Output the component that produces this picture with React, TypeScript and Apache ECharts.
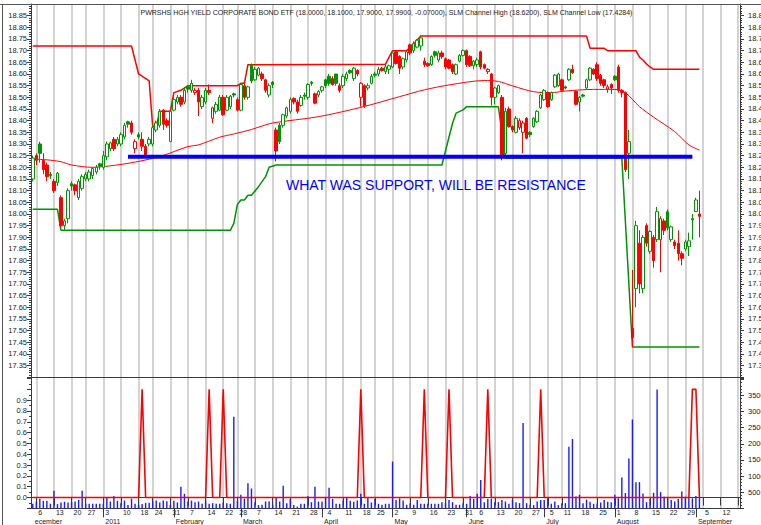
import React, { useEffect, useRef } from "react";
import * as echarts from "echarts";

// ---------- calendar ----------
const FIRST_DAY = "2010-12-03";
const LAST_DAY = "2011-09-19";
const HOLIDAYS = ["2010-12-24", "2011-01-17", "2011-02-21", "2011-04-22", "2011-05-30", "2011-07-04"];
const MONTH_NAMES = ["January", "February", "March", "April", "May", "June", "July", "August", "September", "October", "November", "December"];

// ---------- texts ----------
const TITLE =
  "PWRSHS HGH YIELD CORPORATE BOND ETF (18.0000, 18.1000, 17.9000, 17.9900, -0.07000), SLM Channel High (18.6200), SLM Channel Low (17.4284)";
const NOTE = "WHAT WAS SUPPORT, WILL BE RESISTANCE";

// ---------- daily prices (trading days from 2010-12-03) ----------
const OPEN = [
  18.15, 18.25, 18.30, 18.23, 18.21, 18.17, 18.14, 18.135, 18.07, 17.95,
  17.98, 18.13, 18.125, 18.07, 18.11, 18.15, 18.15, 18.165, 18.18, 18.215,
  18.20, 18.245, 18.28, 18.32, 18.30, 18.30, 18.33, 18.395, 18.39, 18.28,
  18.34, 18.32, 18.29, 18.30, 18.30, 18.36, 18.38, 18.445, 18.40, 18.31,
  18.445, 18.48, 18.50, 18.48, 18.545, 18.53, 18.52, 18.53, 18.46, 18.48,
  18.53, 18.41, 18.44, 18.445, 18.50, 18.445, 18.46, 18.515, 18.49, 18.445,
  18.55, 18.50, 18.64, 18.575, 18.595, 18.60, 18.575, 18.51, 18.565, 18.36,
  18.38, 18.38, 18.42, 18.44, 18.495, 18.48, 18.465, 18.51, 18.50, 18.565,
  18.515, 18.51, 18.53, 18.575, 18.59, 18.58, 18.60, 18.55, 18.55, 18.58,
  18.615, 18.58, 18.615, 18.50, 18.55, 18.54, 18.56, 18.60, 18.60, 18.625,
  18.61, 18.62, 18.63, 18.695, 18.675, 18.63, 18.66, 18.725, 18.70, 18.715,
  18.72, 18.655, 18.645, 18.64, 18.695, 18.66, 18.69, 18.665, 18.66, 18.64,
  18.60, 18.655, 18.68, 18.70, 18.675, 18.635, 18.64, 18.695, 18.64, 18.61,
  18.60, 18.50, 18.52, 18.50, 18.26, 18.45, 18.375, 18.35, 18.37, 18.35,
  18.41, 18.35, 18.375, 18.395, 18.455, 18.49, 18.52, 18.49, 18.545, 18.55,
  18.575, 18.545, 18.575, 18.62, 18.525, 18.48, 18.51, 18.54, 18.575, 18.62,
  18.64, 18.595, 18.575, 18.535, 18.555, 18.59, 18.63, 18.53, 18.52, 18.26,
  17.51, 17.68, 17.875, 17.68, 17.95, 17.84, 17.90, 17.89, 17.89, 17.97,
  18.01, 17.89, 17.88, 17.875, 17.83, 17.85, 17.86, 17.98, 18.01, 18.00,
];
const CLOSE = [
  18.24, 18.23, 18.26, 18.19, 18.16, 18.165, 18.10, 18.175, 17.95, 17.97,
  18.10, 18.12, 18.10, 18.14, 18.16, 18.17, 18.18, 18.195, 18.20, 18.205,
  18.25, 18.30, 18.305, 18.28, 18.32, 18.34, 18.38, 18.385, 18.35, 18.31,
  18.33, 18.29, 18.25, 18.32, 18.37, 18.39, 18.44, 18.385, 18.38, 18.44,
  18.49, 18.50, 18.47, 18.53, 18.535, 18.56, 18.53, 18.48, 18.50, 18.53,
  18.52, 18.455, 18.47, 18.50, 18.425, 18.50, 18.505, 18.51, 18.445, 18.555,
  18.50, 18.545, 18.57, 18.62, 18.625, 18.58, 18.53, 18.55, 18.555, 18.27,
  18.31, 18.425, 18.455, 18.49, 18.48, 18.44, 18.50, 18.505, 18.555, 18.56,
  18.475, 18.525, 18.545, 18.55, 18.56, 18.555, 18.56, 18.53, 18.59, 18.60,
  18.605, 18.625, 18.60, 18.56, 18.465, 18.55, 18.59, 18.595, 18.62, 18.615,
  18.63, 18.635, 18.69, 18.645, 18.625, 18.665, 18.695, 18.69, 18.73, 18.745,
  18.755, 18.64, 18.635, 18.675, 18.68, 18.69, 18.675, 18.63, 18.625, 18.61,
  18.64, 18.68, 18.70, 18.64, 18.635, 18.655, 18.66, 18.63, 18.625, 18.62,
  18.50, 18.54, 18.55, 18.25, 18.44, 18.375, 18.36, 18.41, 18.40, 18.39,
  18.325, 18.34, 18.41, 18.44, 18.51, 18.53, 18.46, 18.52, 18.595, 18.60,
  18.53, 18.54, 18.62, 18.605, 18.47, 18.50, 18.505, 18.575, 18.625, 18.60,
  18.58, 18.56, 18.55, 18.545, 18.54, 18.575, 18.53, 18.52, 18.19, 18.31,
  17.47, 17.95, 17.70, 17.90, 17.875, 17.925, 17.80, 18.01, 17.98, 17.93,
  17.94, 17.945, 17.865, 17.83, 17.81, 17.88, 17.885, 17.975, 18.06, 17.99,
];
const LOW = [
  18.14, 18.21, 18.22, 18.17, 18.14, 18.15, 18.09, 18.12, 17.94, 17.93,
  17.96, 18.10, 18.08, 18.06, 18.10, 18.14, 18.14, 18.15, 18.17, 18.19,
  18.19, 18.23, 18.27, 18.27, 18.29, 18.29, 18.32, 18.37, 18.34, 18.26,
  18.32, 18.27, 18.24, 18.29, 18.29, 18.35, 18.37, 18.36, 18.37, 18.31,
  18.44, 18.47, 18.46, 18.47, 18.52, 18.52, 18.51, 18.42, 18.45, 18.47,
  18.51, 18.39, 18.43, 18.44, 18.42, 18.44, 18.45, 18.50, 18.44, 18.44,
  18.49, 18.49, 18.56, 18.57, 18.59, 18.57, 18.52, 18.50, 18.54, 18.225,
  18.30, 18.37, 18.41, 18.43, 18.47, 18.43, 18.46, 18.49, 18.49, 18.55,
  18.47, 18.50, 18.52, 18.54, 18.55, 18.55, 18.55, 18.52, 18.54, 18.57,
  18.60, 18.57, 18.59, 18.46, 18.455, 18.53, 18.555, 18.585, 18.59, 18.61,
  18.60, 18.60, 18.625, 18.64, 18.60, 18.62, 18.65, 18.68, 18.69, 18.71,
  18.70, 18.63, 18.63, 18.635, 18.67, 18.65, 18.665, 18.62, 18.62, 18.60,
  18.595, 18.65, 18.675, 18.63, 18.63, 18.62, 18.63, 18.62, 18.62, 18.60,
  18.465, 18.47, 18.515, 18.23, 18.245, 18.37, 18.35, 18.345, 18.36, 18.26,
  18.32, 18.33, 18.37, 18.39, 18.45, 18.485, 18.455, 18.485, 18.54, 18.545,
  18.525, 18.535, 18.57, 18.60, 18.465, 18.44, 18.50, 18.535, 18.57, 18.595,
  18.57, 18.55, 18.54, 18.52, 18.515, 18.57, 18.52, 18.50, 18.18, 18.15,
  17.43, 17.60, 17.66, 17.66, 17.86, 17.83, 17.77, 17.88, 17.75, 17.91,
  17.93, 17.88, 17.85, 17.80, 17.78, 17.84, 17.82, 17.89, 18.01, 17.90,
];
const HIGH = [
  18.25, 18.26, 18.31, 18.26, 18.22, 18.18, 18.15, 18.18, 18.08, 17.98,
  18.11, 18.14, 18.13, 18.15, 18.17, 18.18, 18.19, 18.20, 18.21, 18.22,
  18.27, 18.31, 18.31, 18.33, 18.33, 18.35, 18.39, 18.40, 18.40, 18.32,
  18.35, 18.35, 18.30, 18.33, 18.38, 18.40, 18.45, 18.45, 18.41, 18.44,
  18.50, 18.51, 18.51, 18.54, 18.55, 18.575, 18.54, 18.54, 18.51, 18.54,
  18.555, 18.46, 18.48, 18.51, 18.51, 18.51, 18.51, 18.52, 18.50, 18.56,
  18.56, 18.55, 18.645, 18.63, 18.63, 18.61, 18.58, 18.56, 18.57, 18.37,
  18.39, 18.43, 18.46, 18.50, 18.50, 18.49, 18.51, 18.52, 18.56, 18.57,
  18.52, 18.53, 18.55, 18.58, 18.60, 18.59, 18.60, 18.56, 18.60, 18.61,
  18.62, 18.63, 18.62, 18.565, 18.555, 18.56, 18.60, 18.61, 18.63, 18.63,
  18.64, 18.64, 18.70, 18.70, 18.68, 18.67, 18.70, 18.73, 18.74, 18.75,
  18.765, 18.67, 18.65, 18.68, 18.70, 18.70, 18.70, 18.67, 18.665, 18.645,
  18.645, 18.685, 18.705, 18.705, 18.68, 18.66, 18.67, 18.70, 18.645, 18.625,
  18.605, 18.545, 18.555, 18.51, 18.455, 18.46, 18.38, 18.42, 18.41, 18.40,
  18.415, 18.355, 18.415, 18.445, 18.515, 18.535, 18.525, 18.525, 18.60, 18.605,
  18.58, 18.55, 18.625, 18.64, 18.53, 18.505, 18.515, 18.58, 18.63, 18.625,
  18.65, 18.60, 18.58, 18.555, 18.56, 18.595, 18.64, 18.535, 18.525, 18.36,
  17.76, 17.97, 17.93, 17.91, 17.96, 17.93, 17.91, 18.03, 17.99, 17.98,
  18.02, 17.95, 17.89, 17.93, 17.84, 17.89, 17.92, 18.00, 18.07, 18.10,
];
const VOLUME = [
  140, 210, 295, 233, 233, 140, 545, 130, 180, 200,
  180, 190, 210, 260, 545, 140, 140, 140, 140, 140,
  140, 330, 210, 380, 233, 160, 240, 100, 300, 140,
  110, 130, 170, 170, 240, 240, 180, 240, 220, 110,
  233, 180, 667, 450, 210, 240, 190, 210, 140, 240,
  140, 160, 140, 140, 180, 160, 140, 2840, 230, 420,
  300, 780, 615, 190, 100, 110, 210, 210, 110, 320,
  210, 700, 160, 290, 100, 50, 140, 140, 380, 190,
  670, 210, 210, 330, 640, 290, 140, 140, 240, 340,
  233, 200, 240, 450, 140, 320, 180, 290, 140, 110,
  140, 140, 1450, 260, 310, 240, 110, 160, 110, 260,
  140, 140, 140, 140, 140, 140, 190, 160, 260, 190,
  110, 110, 160, 140, 380, 290, 450, 880, 190, 300,
  300, 190, 190, 260, 210, 140, 260, 190, 160, 2650,
  160, 110, 100, 210, 260, 260, 310, 140, 210, 100,
  160, 160, 1910, 2150, 370, 420, 160, 270, 200, 140,
  140, 180, 260, 200, 190, 420, 310, 955, 470, 1545,
  2755, 810, 810, 460, 190, 290, 480, 3690, 500, 357,
  310, 260, 210, 290, 520, 357, 357, 310, 380, 357,
];
// trading-day indices where the lower-panel signal equals 1
const SIGNAL_DAYS = [31, 50, 54, 93, 111, 118, 129, 144, 187, 188];

// [trading-day index, value] vertices
const CHANNEL_HIGH = [
  [0, 18.72], [28, 18.72], [30, 18.6], [33, 18.57], [34, 18.375], [35, 18.375], [36, 18.44], [39, 18.44],
  [40, 18.52], [42, 18.53], [44, 18.55], [58, 18.55], [59, 18.56], [60, 18.56], [61, 18.64], [100, 18.642],
  [102, 18.7], [106, 18.7], [108, 18.729], [110, 18.763], [157, 18.763], [158, 18.71], [162, 18.71],
  [163, 18.7], [171, 18.7], [172, 18.672], [173, 18.66], [174, 18.643], [175, 18.63], [176, 18.62], [189, 18.62],
];
const CHANNEL_LOW = [
  [0, 18.02], [7, 18.02], [8, 17.93], [56, 17.93], [57, 17.96], [58, 18.04], [59, 18.06], [60, 18.06],
  [61, 18.08], [62, 18.08], [64, 18.117], [66, 18.16], [67, 18.2], [69, 18.21], [116, 18.21], [119, 18.389],
  [120, 18.432], [122, 18.446], [123, 18.46], [132, 18.46], [134, 18.24], [167, 18.24], [170, 17.43], [189, 17.43],
];
const MOVING_AVG = [
  [0, 18.235], [4, 18.232], [8, 18.224], [11, 18.21], [17, 18.2], [20, 18.203], [27, 18.217], [36, 18.246],
  [44, 18.289], [47, 18.296], [53, 18.329], [57, 18.343], [62, 18.362], [64, 18.372], [68, 18.39], [81, 18.417],
  [93, 18.457], [104, 18.503], [111, 18.532], [118, 18.553], [128, 18.572], [132, 18.568], [136, 18.549],
  [142, 18.524], [147, 18.52], [151, 18.527], [159, 18.534], [165, 18.534], [168, 18.52], [172, 18.46],
  [176, 18.415], [182, 18.353], [186, 18.296], [189, 18.274],
];
const SUPPORT_FROM = 27;
const SUPPORT_TO = 187;
const SUPPORT_LEVEL = 18.245;

const FONT = "Liberation Sans, Arial, sans-serif";
const GREEN = "#009400";
const RED = "#ff0000";
const BLUE = "#0000ff";
const AXIS = "#3a3a3a";
const GRIDLINE = "#c9c9c9";

function buildDates(): string[] {
  const out: string[] = [];
  const d = new Date(FIRST_DAY + "T00:00:00Z");
  const end = new Date(LAST_DAY + "T00:00:00Z");
  while (d.getTime() <= end.getTime()) {
    const dow = d.getUTCDay();
    const iso = d.toISOString().slice(0, 10);
    if (dow !== 0 && dow !== 6 && HOLIDAYS.indexOf(iso) < 0) out.push(iso);
    d.setUTCDate(d.getUTCDate() + 1);
  }
  return out;
}

function buildOption() {
  const dates = buildDates();
  const dow = dates.map((s) => new Date(s + "T00:00:00Z").getUTCDay());
  const weekStart = dates.map((_, i) => i > 0 && dow[i] <= dow[i - 1]);
  const monthStart = dates.map((s, i) => i === 0 || s.slice(5, 7) !== dates[i - 1].slice(5, 7));
  const lastIdx = dates.length - 1;

  const candles = OPEN.map((o, i) => {
    const c = CLOSE[i];
    const prev = i > 0 ? CLOSE[i - 1] : o;
    const col = c >= prev ? GREEN : RED;
    const fill = c >= o ? "#ffffff" : col;
    return {
      value: [o, c, LOW[i], HIGH[i]],
      itemStyle: { color: fill, color0: fill, borderColor: col, borderColor0: col, borderWidth: 1 },
    };
  });
  const signal = OPEN.map((_, i) => (SIGNAL_DAYS.indexOf(i) >= 0 ? 1 : 0));

  const split = {
    show: true,
    interval: (i: number) => weekStart[i],
    alignWithLabel: true,
    lineStyle: { color: GRIDLINE, width: 1.6 },
  };
  const priceLabel = (v: number) => (v < 17.32 || v > 18.88 ? "" : v.toFixed(2));
  const yCommon = {
    min: 17.3,
    max: 18.9,
    interval: 0.05,
    axisLine: { show: true, lineStyle: { color: AXIS, width: 1 } },
    axisTick: { show: true, length: 4, lineStyle: { color: AXIS } },
    minorTick: { show: true, splitNumber: 5, length: 2, lineStyle: { color: AXIS } },
    splitLine: { show: false },
  };

  return {
    animation: false,
    backgroundColor: "#ffffff",
    textStyle: { fontFamily: FONT },
    grid: [
      { left: 31, right: 21, top: 4, height: 373.3, containLabel: false, outerBoundsMode: "none" },
      { left: 31, right: 21, top: 378, height: 130.3, containLabel: false, outerBoundsMode: "none" },
    ],
    xAxis: [
      {
        type: "category",
        gridIndex: 0,
        data: dates,
        boundaryGap: true,
        axisLine: { show: true, lineStyle: { color: AXIS } },
        axisTick: { show: false },
        axisLabel: { show: false },
        splitLine: split,
      },
      {
        type: "category",
        gridIndex: 1,
        data: dates,
        boundaryGap: true,
        position: "bottom",
        axisLine: { show: true, lineStyle: { color: AXIS } },
        axisTick: {
          show: true,
          alignWithLabel: true,
          length: 8,
          interval: (i: number) => weekStart[i],
          lineStyle: { color: AXIS },
        },
        axisLabel: {
          show: true,
          interval: (i: number) => weekStart[i],
          formatter: (v: string, i: number) => (i === lastIdx ? "" : String(Number(v.slice(8, 10)))),
          align: "left",
          padding: [0, 0, 0, 2],
          margin: 1,
          fontSize: 7,
          color: "#222",
          fontFamily: FONT,
        },
        splitLine: split,
      },
      {
        type: "category",
        gridIndex: 1,
        data: dates,
        boundaryGap: true,
        position: "bottom",
        offset: 8,
        axisLine: { show: true, lineStyle: { color: AXIS } },
        axisTick: {
          show: true,
          alignWithLabel: true,
          length: 9,
          interval: (i: number) => monthStart[i] && i > 0,
          lineStyle: { color: AXIS },
        },
        axisLabel: {
          show: true,
          interval: (i: number) => monthStart[i],
          formatter: (v: string, i: number) => {
            const m = Number(v.slice(5, 7));
            if (i === 0) return MONTH_NAMES[m - 1].slice(1);
            if (m === 1) return v.slice(0, 4);
            return MONTH_NAMES[m - 1];
          },
          align: "left",
          padding: [0, 0, 0, 2],
          margin: 2,
          fontSize: 7,
          color: "#222",
          fontFamily: FONT,
        },
        splitLine: { show: false },
      },
    ],
    yAxis: [
      {
        ...yCommon,
        type: "value",
        gridIndex: 0,
        position: "left",
        axisLabel: { formatter: priceLabel, fontSize: 7.5, color: "#222", margin: 4, fontFamily: FONT },
      },
      {
        ...yCommon,
        type: "value",
        gridIndex: 0,
        position: "right",
        axisLabel: { formatter: priceLabel, fontSize: 7.5, color: "#222", margin: 8, fontFamily: FONT },
      },
      {
        type: "value",
        gridIndex: 1,
        position: "left",
        min: -0.1,
        max: 1.105,
        interval: 0.1,
        axisLine: { show: true, lineStyle: { color: AXIS } },
        axisTick: { show: true, length: 4, lineStyle: { color: AXIS } },
        minorTick: { show: true, splitNumber: 2, length: 2, lineStyle: { color: AXIS } },
        splitLine: { show: false },
        axisLabel: {
          formatter: (v: number) => (v < -0.01 || v > 0.95 ? "" : v.toFixed(1)),
          fontSize: 7.5,
          color: "#222",
          margin: 4,
          fontFamily: FONT,
        },
      },
      {
        type: "value",
        gridIndex: 1,
        position: "right",
        min: 0,
        max: 4043,
        interval: 500,
        axisLine: { show: true, lineStyle: { color: AXIS } },
        axisTick: { show: true, length: 4, lineStyle: { color: AXIS } },
        minorTick: { show: true, splitNumber: 5, length: 2, lineStyle: { color: AXIS } },
        splitLine: { show: false },
        axisLabel: {
          formatter: (v: number) => (v <= 0 || v >= 4000 || v % 500 !== 0 ? "" : String(v)),
          fontSize: 7.5,
          color: "#222",
          margin: 8,
          fontFamily: FONT,
        },
      },
    ],
    series: [
      {
        name: "SLM Channel Low",
        type: "line",
        xAxisIndex: 0,
        yAxisIndex: 0,
        data: CHANNEL_LOW,
        symbol: "none",
        lineStyle: { color: GREEN, width: 1.5 },
        z: 2,
      },
      {
        name: "SLM Channel High",
        type: "line",
        xAxisIndex: 0,
        yAxisIndex: 0,
        data: CHANNEL_HIGH,
        symbol: "none",
        lineStyle: { color: RED, width: 1.5 },
        z: 2,
      },
      {
        name: "Average",
        type: "line",
        xAxisIndex: 0,
        yAxisIndex: 0,
        data: MOVING_AVG,
        symbol: "none",
        smooth: 0.3,
        lineStyle: { color: RED, width: 1 },
        z: 2,
      },
      {
        name: "Price",
        type: "candlestick",
        xAxisIndex: 0,
        yAxisIndex: 0,
        data: candles,
        barWidth: 3,
        z: 3,
      },
      {
        name: "Support",
        type: "line",
        xAxisIndex: 0,
        yAxisIndex: 0,
        data: [
          [SUPPORT_FROM, SUPPORT_LEVEL],
          [SUPPORT_TO, SUPPORT_LEVEL],
        ],
        symbol: "none",
        lineStyle: { color: BLUE, width: 4 },
        z: 4,
      },
      {
        name: "Volume",
        type: "bar",
        xAxisIndex: 1,
        yAxisIndex: 3,
        data: VOLUME,
        barWidth: 1.4,
        itemStyle: { color: "#1a1aff" },
        z: 2,
      },
      {
        name: "Signal",
        type: "line",
        xAxisIndex: 1,
        yAxisIndex: 2,
        data: signal,
        symbol: "none",
        lineStyle: { color: RED, width: 1.6 },
        z: 3,
      },
    ],
    graphic: [
      { type: "line", shape: { x1: 0, y1: 4.5, x2: 761, y2: 4.5 }, style: { stroke: "#555", lineWidth: 1 }, z: 10 },
      { type: "line", shape: { x1: 2.5, y1: 4.5, x2: 2.5, y2: 525 }, style: { stroke: "#555", lineWidth: 1 }, z: 10 },
      {
        type: "text",
        left: 140.5,
        top: 9,
        style: { text: TITLE, fontSize: 7, fontFamily: FONT, fill: "#222" },
        z: 10,
      },
      {
        type: "text",
        left: 286,
        top: 177.5,
        style: { text: NOTE, fontSize: 14, fontFamily: FONT, fill: BLUE },
        z: 10,
      },
    ],
  };
}

export default function App() {
  const ref = useRef<HTMLDivElement>(null);
  useEffect(() => {
    document.body.style.margin = "0";
    if (!ref.current) return;
    const chart = echarts.init(ref.current, null, { renderer: "svg" });
    chart.setOption(buildOption() as any);
    return () => chart.dispose();
  }, []);
  return <div ref={ref} style={{ width: 761, height: 525, background: "#ffffff" }} />;
}
